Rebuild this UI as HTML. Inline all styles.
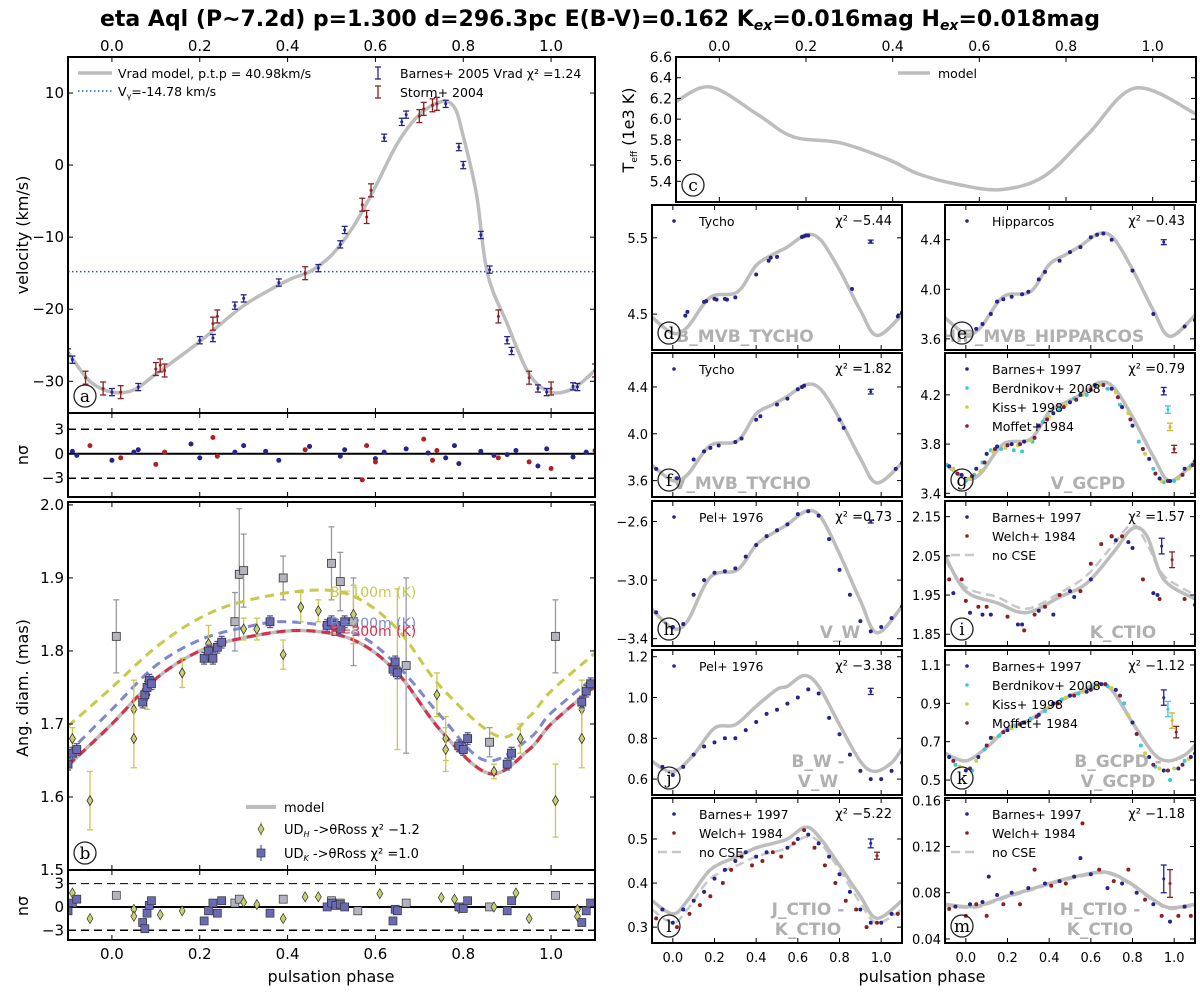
<!DOCTYPE html>
<html><head><meta charset="utf-8">
<style>
html,body{margin:0;padding:0;background:#fff;}
svg{display:block;font-family:"DejaVu Sans","Liberation Sans",sans-serif;}
</style></head>
<body>
<svg id="chart" xmlns="http://www.w3.org/2000/svg" width="1200" height="996" viewBox="0 0 1200 996">
<text x="600" y="26" text-anchor="middle" font-size="22" font-weight="bold">eta Aql (P~7.2d) p=1.300 d=296.3pc E(B-V)=0.162 K<tspan font-style="italic" font-size="14" dy="4">ex</tspan><tspan dy="-4">=0.016mag H</tspan><tspan font-style="italic" font-size="14" dy="4">ex</tspan><tspan dy="-4">=0.018mag</tspan></text>
<text transform="translate(28,235) rotate(-90)" text-anchor="middle" font-size="16">velocity (km/s)</text>
<text transform="translate(28,455) rotate(-90)" text-anchor="middle" font-size="16">nσ</text>
<text transform="translate(28,688) rotate(-90)" text-anchor="middle" font-size="16">Ang. diam. (mas)</text>
<text transform="translate(28,906) rotate(-90)" text-anchor="middle" font-size="16">nσ</text>
<text transform="translate(634,130) rotate(-90)" text-anchor="middle" font-size="16">T<tspan font-size="9" dy="3">eff</tspan><tspan dy="-3"> (1e3 K)</tspan></text>
<text x="331" y="982" text-anchor="middle" font-size="16">pulsation phase</text>
<text x="922" y="982" text-anchor="middle" font-size="16">pulsation phase</text>
</svg>
<script>
// ---------------- DATA ----------------
const velModelPh=[-0.1,-0.05,0.0,0.05,0.1,0.2,0.3,0.4,0.45,0.5,0.55,0.6,0.65,0.7,0.75,0.78,0.8,0.83,0.855,0.9,0.95,1.0,1.05,1.1];
const velModelV=[-26,-30,-31.5,-31.2,-29,-24.5,-19.5,-16,-14.8,-12.5,-8.5,-3,3,7,8.8,8,4,-4,-15,-22,-29,-31.5,-31,-28.5];
const vGamma=-14.78;
const barnesPh=[-0.1,-0.09,0.0,0.06,0.2,0.23,0.28,0.3,0.38,0.47,0.52,0.53,0.62,0.66,0.67,0.76,0.79,0.8,0.84,0.86,0.9,0.91,0.97,0.99,1.05,1.06];
const barnesV=[-26,-27,-31.5,-30.8,-24.3,-24,-19.5,-18.5,-16.3,-14.3,-11,-9,3.8,6,7,8.5,2.5,0,-9.7,-14.5,-24.3,-25.8,-31,-31.5,-30.7,-30.8];
const stormPh=[-0.06,-0.02,0.02,0.1,0.11,0.12,0.23,0.24,0.44,0.57,0.58,0.59,0.7,0.71,0.73,0.74,0.88,0.95,1.0,1.1];
const stormV=[-29.5,-31,-31.5,-28.3,-27.8,-28.5,-22,-21,-15,-5.5,-7.2,-3.5,6.8,7.8,8.3,8.5,-21,-29.5,-31,-28.5];
const resBarnesPh=[-0.09,-0.08,0.0,0.05,0.06,0.18,0.2,0.28,0.3,0.35,0.38,0.45,0.52,0.53,0.6,0.62,0.67,0.72,0.76,0.78,0.79,0.84,0.87,0.9,0.92,0.97,0.99,1.05,1.08];
const resBarnesV=[0.3,-0.2,-0.8,0.2,0.5,1.2,-0.5,0.2,1.0,0.3,-0.8,0.9,-0.3,0.5,-0.6,0.2,0.6,0.1,-0.5,1.0,-1.2,0.3,-0.2,-0.1,0.4,-1.5,0.6,-0.4,0.2];
const resStormPh=[-0.05,0.02,0.1,0.12,0.23,0.24,0.44,0.57,0.58,0.6,0.71,0.73,0.74,0.88,0.95,1.0,1.1];
const resStormV=[1.0,-0.5,-1.3,0.2,2.0,-0.3,0.5,-3.2,1.0,-1.0,1.8,-0.8,0.4,-0.5,-1.0,-1.8,0.4];
const diamPh=[-0.1,0.0,0.1,0.2,0.3,0.43,0.55,0.65,0.75,0.86,0.95,1.0,1.1];
const diam300=[1.643,1.70,1.762,1.80,1.818,1.828,1.815,1.77,1.69,1.632,1.665,1.70,1.752];
const diam200Ph=[-0.1,0.0,0.1,0.2,0.3,0.4,0.55,0.65,0.75,0.85,0.95,1.0,1.1];
const diam200=[1.66,1.72,1.78,1.815,1.832,1.84,1.825,1.78,1.71,1.65,1.68,1.715,1.765];
const diam100Ph=[-0.1,0.0,0.1,0.2,0.3,0.45,0.55,0.65,0.75,0.88,0.95,1.0,1.1];
const diam100=[1.697,1.75,1.805,1.845,1.868,1.883,1.875,1.83,1.75,1.683,1.71,1.745,1.797];
const udHPh=[-0.09,-0.05,0.05,0.05,0.08,0.16,0.22,0.3,0.33,0.39,0.43,0.47,0.55,0.65,0.74,0.76,0.76,0.87,0.93,1.01,1.07,1.07];
const udHV=[1.68,1.595,1.72,1.68,1.74,1.77,1.81,1.83,1.83,1.795,1.86,1.855,1.85,1.775,1.74,1.68,1.665,1.635,1.68,1.595,1.72,1.68];
const udHE=[0.015,0.04,0.04,0.04,0.02,0.02,0.025,0.015,0.015,0.02,0.02,0.015,0.04,0.11,0.03,0.03,0.03,0.01,0.02,0.05,0.04,0.04];
const udKPh=[-0.1,-0.09,-0.08,0.07,0.075,0.08,0.085,0.09,0.21,0.22,0.23,0.24,0.25,0.36,0.49,0.5,0.51,0.52,0.53,0.64,0.645,0.65,0.79,0.8,0.81,0.9,0.91,1.07,1.08,1.09];
const udKV=[1.645,1.66,1.665,1.73,1.74,1.75,1.76,1.755,1.79,1.8,1.79,1.805,1.812,1.84,1.835,1.84,1.835,1.83,1.84,1.775,1.785,1.77,1.67,1.665,1.68,1.645,1.66,1.73,1.745,1.755];
const grayPh=[0.01,0.28,0.29,0.3,0.39,0.5,0.52,0.55,0.67,0.86,1.01];
const grayV=[1.82,1.84,1.905,1.91,1.9,1.92,1.895,1.84,1.78,1.675,1.82];
const grayE=[0.05,0.04,0.09,0.05,0.03,0.05,0.04,0.06,0.12,0.02,0.05];
const resHPh=[-0.09,-0.05,0.05,0.05,0.11,0.16,0.3,0.33,0.39,0.44,0.47,0.61,0.75,0.78,0.79,0.87,0.92,0.95,1.06,1.06];
const resHV=[1.8,-1.5,-0.3,-1.2,-1.0,-0.5,0.6,0.3,-1.5,1.3,1.3,1.7,1.2,1.0,-0.2,0.0,1.8,-1.5,-0.3,-1.2];
const resKPh=udKPh;
const resKV=[-0.5,0.5,1.0,-2.0,-2.8,-0.8,0.2,0.8,-1.8,-0.5,0.5,-0.8,0.8,-0.8,0,0.5,0.2,0.3,0,-1.8,-0.3,-0.5,0,-0.2,0.8,-0.5,0.8,-2.0,-0.5,0.5];
const resGPh=[0.01,0.28,0.29,0.39,0.5,0.52,0.56,0.67,0.86,1.01];
const resGV=[1.5,0.5,1.0,1.0,0.8,0.5,-0.5,0.5,0,1.5];
const teffPh=[-0.1,-0.02,0.09,0.17,0.28,0.39,0.46,0.55,0.65,0.75,0.85,0.96,1.1];
const teffV=[6.17,6.31,6.04,5.83,5.77,5.61,5.47,5.37,5.32,5.45,5.85,6.3,6.05];
const shapePh=[-0.1,0.0,0.07,0.18,0.31,0.40,0.48,0.55,0.64,0.71,0.8,0.9,0.98,1.1];
const bTychoModel=[4.46,4.25,4.33,4.72,4.79,5.14,5.28,5.38,5.54,5.47,5.08,4.55,4.22,4.49];
const hipModel=[3.77,3.64,3.69,3.94,3.98,4.2,4.28,4.35,4.45,4.41,4.16,3.83,3.62,3.79];
const vTychoModel=[3.73,3.6,3.65,3.9,3.94,4.17,4.25,4.32,4.42,4.38,4.13,3.79,3.58,3.75];
const vGcpdModel=[3.64,3.52,3.56,3.8,3.84,4.06,4.14,4.2,4.3,4.26,4.02,3.7,3.5,3.66];
const vWModel=[-3.2,-3.33,-3.28,-2.98,-2.93,-2.76,-2.68,-2.62,-2.53,-2.57,-2.82,-3.14,-3.36,-3.18];
const kPh=[-0.1,0.0,0.15,0.29,0.45,0.58,0.71,0.8,0.87,0.95,1.1];
const kModel=[2.05,1.96,1.93,1.905,1.945,1.98,2.06,2.12,2.1,1.99,1.94];
const kNoCse=[2.04,1.97,1.945,1.915,1.955,2.0,2.08,2.13,2.08,2.0,1.95];
const bvPh=[-0.1,0.0,0.1,0.2,0.3,0.4,0.5,0.55,0.63,0.7,0.8,0.9,0.97,1.05,1.1];
const bvWModel=[0.687,0.635,0.72,0.85,0.867,0.957,1.04,1.055,1.108,1.055,0.867,0.687,0.638,0.68,0.75];
const bvGModel=[0.64,0.6,0.67,0.77,0.81,0.88,0.94,0.96,1.0,0.97,0.8,0.64,0.6,0.63,0.68];
const jkModel=[0.36,0.33,0.36,0.43,0.46,0.48,0.49,0.5,0.527,0.5,0.44,0.37,0.32,0.36];
const jkNoCse=[0.34,0.31,0.34,0.41,0.44,0.46,0.47,0.48,0.505,0.49,0.43,0.355,0.31,0.34];
const hkModel=[0.07,0.068,0.069,0.076,0.083,0.088,0.092,0.095,0.098,0.096,0.087,0.074,0.067,0.07];
const hkNoCse=[0.069,0.067,0.068,0.075,0.082,0.087,0.091,0.094,0.097,0.095,0.086,0.073,0.066,0.069];
const dPh=[0.06,0.07,0.15,0.16,0.2,0.21,0.25,0.26,0.3,0.4,0.46,0.47,0.5,0.62,0.63,0.64,0.65,0.86,1.08,1.1];
const dV=[4.48,4.53,4.66,4.67,4.7,4.69,4.7,4.69,4.72,5.02,5.2,5.24,5.25,5.51,5.52,5.53,5.53,4.83,4.47,4.52];
const ePh=[0.05,0.08,0.12,0.15,0.18,0.22,0.27,0.3,0.35,0.38,0.45,0.5,0.55,0.6,0.63,0.66,0.7,0.8,0.9,1.05,1.1];
const eV=[3.68,3.72,3.8,3.9,3.92,3.94,3.96,3.98,4.08,4.14,4.23,4.3,4.34,4.42,4.44,4.45,4.4,4.15,3.8,3.7,3.75];
const fPh=[-0.08,0.02,0.1,0.15,0.18,0.22,0.3,0.33,0.4,0.42,0.5,0.55,0.6,0.62,0.63,0.8,0.82,1.07,1.1];
const fV=[3.7,3.62,3.78,3.85,3.88,3.9,3.93,3.96,4.12,4.15,4.25,4.3,4.38,4.4,4.41,4.12,4.05,3.7,3.75];
const gBPh=[-0.08,-0.02,0.05,0.1,0.15,0.22,0.28,0.35,0.42,0.5,0.55,0.62,0.7,0.75,0.8,0.88,0.93,0.98,1.05,1.1];
const gBV=[3.62,3.55,3.6,3.72,3.78,3.8,3.82,3.95,4.05,4.14,4.2,4.28,4.25,4.1,3.95,3.68,3.52,3.5,3.6,3.66];
const gCPh=[-0.09,0.0,0.04,0.08,0.12,0.17,0.23,0.27,0.32,0.37,0.45,0.52,0.58,0.63,0.68,0.74,0.83,0.9,0.95,1.0,1.08];
const gCV=[3.63,3.5,3.55,3.65,3.75,3.76,3.75,3.74,3.82,3.98,4.08,4.17,4.2,4.27,4.25,4.12,3.82,3.6,3.49,3.5,3.62];
const gKPh=[-0.06,0.02,0.07,0.13,0.19,0.25,0.31,0.4,0.48,0.56,0.64,0.72,0.78,0.86,0.94,1.02,1.07];
const gKV=[3.6,3.52,3.58,3.74,3.77,3.79,3.83,4.02,4.12,4.2,4.28,4.22,4.05,3.72,3.5,3.52,3.6];
const gMPh=[-0.04,0.03,0.09,0.14,0.2,0.26,0.33,0.39,0.47,0.53,0.6,0.66,0.73,0.79,0.85,0.91,0.97,1.04,1.09];
const gMV=[3.56,3.54,3.65,3.76,3.79,3.8,3.85,4.0,4.1,4.16,4.24,4.28,4.18,4.0,3.76,3.56,3.5,3.55,3.63];
const hPh=[-0.08,0.0,0.05,0.1,0.15,0.2,0.25,0.3,0.35,0.4,0.45,0.5,0.55,0.6,0.65,0.7,0.75,0.8,0.85,0.9,0.95,1.0,1.05,1.1];
const hV=[-3.22,-3.32,-3.3,-3.1,-3.0,-2.95,-2.94,-2.92,-2.84,-2.76,-2.7,-2.66,-2.62,-2.55,-2.53,-2.56,-2.72,-2.93,-3.1,-3.28,-3.35,-3.32,-3.26,-3.18];
const iBPh=[-0.06,0.02,0.08,0.12,0.25,0.27,0.35,0.42,0.5,0.52,0.6,0.7,0.72,0.78,0.8,0.9,0.92,1.1];
const iBV=[1.955,1.905,1.9,1.9,1.875,1.875,1.91,1.9,1.96,1.945,1.99,2.1,2.09,2.085,2.07,1.955,1.95,1.925];
const iWPh=[-0.08,-0.02,0.0,0.06,0.1,0.2,0.28,0.33,0.38,0.45,0.55,0.6,0.65,0.7,0.75,0.85,0.93,1.05];
const iWV=[1.99,1.99,1.935,1.92,1.92,1.895,1.86,1.9,1.92,1.95,1.96,2.03,2.08,2.1,2.1,1.99,1.94,1.94];
const jPh=[-0.05,0.0,0.05,0.1,0.15,0.2,0.25,0.3,0.35,0.4,0.45,0.5,0.55,0.6,0.65,0.7,0.75,0.8,0.85,0.9,0.95,1.0,1.05,1.1];
const jV=[0.66,0.62,0.66,0.72,0.76,0.78,0.8,0.8,0.84,0.88,0.92,0.94,0.97,1.0,1.04,1.02,0.9,0.82,0.72,0.64,0.6,0.6,0.64,0.68];
const kBPh=[-0.08,0.0,0.06,0.12,0.2,0.28,0.35,0.42,0.5,0.58,0.65,0.72,0.8,0.88,0.95,1.02,1.08];
const kBV=[0.62,0.55,0.62,0.72,0.76,0.8,0.84,0.9,0.94,0.96,1.0,0.97,0.8,0.62,0.55,0.56,0.62];
const kCPh=[-0.05,0.03,0.09,0.16,0.24,0.31,0.38,0.46,0.54,0.61,0.68,0.76,0.84,0.91,0.98,1.05];
const kCV=[0.58,0.55,0.66,0.73,0.78,0.82,0.86,0.92,0.95,0.98,0.99,0.9,0.68,0.57,0.5,0.6];
const kKPh=[-0.03,0.05,0.13,0.22,0.3,0.4,0.48,0.56,0.63,0.7,0.78,0.86,0.93,1.0,1.07];
const kKV=[0.57,0.6,0.72,0.77,0.8,0.88,0.93,0.96,0.99,0.98,0.84,0.64,0.56,0.56,0.61];
const kMPh=[-0.06,0.02,0.1,0.18,0.26,0.34,0.44,0.52,0.6,0.67,0.74,0.82,0.9,0.97,1.04,1.1];
const kMV=[0.6,0.56,0.68,0.75,0.79,0.83,0.9,0.94,0.97,1.0,0.94,0.74,0.58,0.55,0.58,0.64];
const lBPh=[-0.05,0.0,0.05,0.1,0.15,0.2,0.25,0.3,0.35,0.4,0.45,0.55,0.6,0.65,0.7,0.75,0.8,0.85,0.9,0.95,1.0,1.05];
const lBV=[0.34,0.31,0.34,0.36,0.38,0.41,0.43,0.45,0.47,0.46,0.47,0.48,0.5,0.51,0.49,0.46,0.42,0.38,0.34,0.31,0.31,0.33];
const lWPh=[-0.08,0.02,0.08,0.13,0.18,0.24,0.28,0.33,0.38,0.43,0.48,0.52,0.58,0.63,0.68,0.73,0.78,0.83,0.88,0.93,0.98,1.08];
const lWV=[0.32,0.3,0.33,0.35,0.37,0.4,0.43,0.46,0.44,0.45,0.47,0.46,0.49,0.52,0.48,0.44,0.4,0.36,0.34,0.3,0.31,0.33];
const mBPh=[-0.05,0.02,0.08,0.11,0.15,0.22,0.3,0.38,0.45,0.52,0.55,0.6,0.68,0.75,0.82,0.9,0.98,1.05];
const mBV=[0.068,0.07,0.072,0.094,0.078,0.08,0.084,0.088,0.09,0.094,0.11,0.096,0.084,0.088,0.08,0.07,0.055,0.068];
const mWPh=[-0.08,0.0,0.05,0.1,0.18,0.26,0.33,0.41,0.48,0.56,0.64,0.71,0.78,0.86,0.94,1.02,1.08];
const mWV=[0.066,0.06,0.07,0.06,0.07,0.07,0.1,0.086,0.088,0.14,0.1,0.09,0.1,0.074,0.06,0.06,0.06];
const xTicks=[0,0.2,0.4,0.6,0.8,1.0];
const xTickLabels=["0.0","0.2","0.4","0.6","0.8","1.0"];

// ---------------- DRAWING ----------------
const NS='http://www.w3.org/2000/svg';
const svg=document.getElementById('chart');
function mk(tag,attrs,parent){const e=document.createElementNS(NS,tag);for(const k in attrs)e.setAttribute(k,attrs[k]);(parent||svg).appendChild(e);return e;}
let clipN=0;
function panel(P){
  P.xmin=-0.1;P.xmax=1.1;
  P.sx=p=>P.x+(p-P.xmin)/(P.xmax-P.xmin)*P.w;
  P.sy=v=>P.y+P.h-(v-P.ymin)/(P.ymax-P.ymin)*P.h;
  P.g=mk('g',{});
  
  
  const id='clip'+(clipN++);
  const cp=mk('clipPath',{id:id},P.g);
  mk('rect',{x:P.x,y:P.y,width:P.w,height:P.h},cp);
  P.plot=mk('g',{'clip-path':'url(#'+id+')'},P.g);
  return P;
}
function frame(P){
  const r=mk('rect',{x:P.x,y:P.y,width:P.w,height:P.h,fill:'none',stroke:'#000','stroke-width':2},P.g);
  
  
  xTicks.forEach((t,i)=>{
    const x=P.sx(t);
    mk('line',{x1:x,x2:x,y1:P.y,y2:P.y+5,stroke:'#000','stroke-width':1},P.g);
    mk('line',{x1:x,x2:x,y1:P.y+P.h,y2:P.y+P.h-5,stroke:'#000','stroke-width':1},P.g);
    if(P.xlabBottom){const t1=mk('text',{x:x,y:P.y+P.h+19,'text-anchor':'middle','font-size':P.fs||14},P.g);t1.textContent=xTickLabels[i];
      
      }
    if(P.xlabTop){const t2=mk('text',{x:x,y:P.y-6,'text-anchor':'middle','font-size':P.fs||14},P.g);t2.textContent=xTickLabels[i];
      
      }
  });
  P.yticks.forEach((t,i)=>{
    const y=P.sy(t);
    mk('line',{x1:P.x,x2:P.x+5,y1:y,y2:y,stroke:'#000','stroke-width':1},P.g);
    mk('line',{x1:P.x+P.w,x2:P.x+P.w-5,y1:y,y2:y,stroke:'#000','stroke-width':1},P.g);
    const lab=mk('text',{x:P.x-4,y:y+5,'text-anchor':'end','font-size':P.fs||14},P.g);
    lab.textContent=P.ylabels[i];
    
    
  });
}
function curve(P,ph,vals,style,name){
  const pts=ph.map((p,i)=>[P.sx(p),P.sy(vals[i])]);
  let d='M'+pts[0][0]+','+pts[0][1];
  for(let i=0;i<pts.length-1;i++){
    const p0=pts[Math.max(0,i-1)],p1=pts[i],p2=pts[i+1],p3=pts[Math.min(pts.length-1,i+2)];
    const c1=[p1[0]+(p2[0]-p0[0])/6,p1[1]+(p2[1]-p0[1])/6];
    const c2=[p2[0]-(p3[0]-p1[0])/6,p2[1]-(p3[1]-p1[1])/6];
    d+='C'+c1[0]+','+c1[1]+' '+c2[0]+','+c2[1]+' '+p2[0]+','+p2[1];
  }
  const e=mk('path',Object.assign({d:d,fill:'none'},style),P.plot);
  
  
  return e;
}
function dots(P,ph,vals,color,r,name){
  ph.forEach((p,i)=>{
    const c=mk('circle',{cx:P.sx(p),cy:P.sy(vals[i]),r:r,fill:color},P.plot);
    
    
  });
}
function errPts(P,ph,vals,errs,color,marker,mcolor,name){
  ph.forEach((p,i)=>{
    const x=P.sx(p),y=P.sy(vals[i]),e=errs[i];
    const y1=P.sy(vals[i]+e),y2=P.sy(vals[i]-e);
    const g=mk('g',{},P.plot);
    
    
    mk('line',{x1:x,x2:x,y1:y1,y2:y2,stroke:color,'stroke-width':1.3},g);
    mk('line',{x1:x-3,x2:x+3,y1:y1,y2:y1,stroke:color,'stroke-width':1.3},g);
    mk('line',{x1:x-3,x2:x+3,y1:y2,y2:y2,stroke:color,'stroke-width':1.3},g);
    if(marker==='sq')mk('rect',{x:x-4,y:y-4,width:8,height:8,fill:mcolor,stroke:'#333','stroke-width':0.8},g);
    else if(marker==='dia')mk('path',{d:`M${x},${y-5}L${x+3},${y}L${x},${y+5}L${x-3},${y}Z`,fill:mcolor,stroke:'#333','stroke-width':0.8},g);
    else if(marker==='dot')mk('circle',{cx:x,cy:y,r:1.5,fill:color},g);
  });
}
function markers(P,ph,vals,marker,mcolor,name){
  ph.forEach((p,i)=>{
    const x=P.sx(p),y=P.sy(vals[i]);
    let e;
    if(marker==='sq')e=mk('rect',{x:x-4,y:y-4,width:8,height:8,fill:mcolor,stroke:'#333','stroke-width':0.7},P.plot);
    else e=mk('path',{d:`M${x},${y-5}L${x+3},${y}L${x},${y+5}L${x-3},${y}Z`,fill:mcolor,stroke:'#333','stroke-width':0.7},P.plot);
    
    
  });
}
function hline(P,v,style,name){
  const e=mk('line',Object.assign({x1:P.x,x2:P.x+P.w,y1:P.sy(v),y2:P.sy(v)},style),P.plot);
  
  
}
function txt(x,y,s,attrs,name,parent){
  const e=mk('text',Object.assign({x:x,y:y},attrs),parent);
  e.textContent=s;
  
  
  return e;
}
function circleLabel(P,ch){
  const cx=P.x+17,cy=P.y+P.h-17;
  const c=mk('circle',{cx:cx,cy:cy,r:11,fill:'none',stroke:'#222','stroke-width':1.3},P.g);
  
  
  txt(cx,cy+6,ch,{'text-anchor':'middle','font-size':17,'font-family':'DejaVu Serif,Liberation Serif,serif'},'panel-letter-'+ch,P.g);
}
const GRAY='#bdbdbd',NAVY='#24248c',RED='#8c2020',CYAN='#3cc8d8',YEL='#d0d040',MOF='#7a2040';
function model(P,ph,vals){curve(P,ph,vals,{stroke:GRAY,'stroke-width':3.5},'model-curve');}
function dashModel(P,ph,vals){curve(P,ph,vals,{stroke:'#c8c8c8','stroke-width':2.5,'stroke-dasharray':'9,5'},'no-cse-curve');}
function fmtTicks(arr,dec){return arr.map(v=>v.toFixed(dec).replace('-','−'));}

// ---- Panel a ----
const A=panel({name:'velocity',x:68,y:57,w:527,h:356,ymin:-34.4,ymax:15,yticks:[-30,-20,-10,0,10],fs:15,xlabTop:true});
A.ylabels=fmtTicks(A.yticks,0);
hline(A,vGamma,{stroke:'#1f5fbf','stroke-width':1.5,'stroke-dasharray':'1.5,2.5'},'v-gamma-line');
model(A,velModelPh,velModelV);
errPts(A,barnesPh,barnesV,barnesPh.map(()=>0.5),NAVY,'dot',NAVY,'barnes-2005-point');
errPts(A,stormPh,stormV,stormPh.map(()=>0.9),RED,'dot',RED,'storm-2004-point');
frame(A);circleLabel(A,'a');
(function(){const g=A.g;
  mk('line',{x1:78,x2:112,y1:73,y2:73,stroke:GRAY,'stroke-width':3.5},g);
  txt(118,78,'Vrad model, p.t.p = 40.98km/s',{'font-size':12.5},'legend-model',g);
  mk('line',{x1:78,x2:112,y1:91,y2:91,stroke:'#1f5fbf','stroke-width':1.5,'stroke-dasharray':'1.5,2.5'},g);
  const t=txt(118,96,'V',{'font-size':12.5},'legend-v-gamma',g);
  const s1=mk('tspan',{'font-size':8,dy:3},t);s1.textContent='γ';
  const s2=mk('tspan',{dy:-3},t);s2.textContent='=-14.78 km/s';
  [[378,73,NAVY,'Barnes+ 2005  Vrad χ² =1.24','legend-barnes'],[378,92,RED,'Storm+ 2004','legend-storm']].forEach(L=>{
    mk('line',{x1:L[0],x2:L[0],y1:L[1]-6,y2:L[1]+6,stroke:L[2],'stroke-width':1.3},g);
    mk('line',{x1:L[0]-3,x2:L[0]+3,y1:L[1]-6,y2:L[1]-6,stroke:L[2],'stroke-width':1.3},g);
    mk('line',{x1:L[0]-3,x2:L[0]+3,y1:L[1]+6,y2:L[1]+6,stroke:L[2],'stroke-width':1.3},g);
    txt(400,L[1]+5,L[3],{'font-size':12.5},L[4],g);
  });
})();
// ---- residual a ----
const RA=panel({name:'velocity-residual',x:68,y:413,w:527,h:84,ymin:-5.3,ymax:5,yticks:[-3,0,3],fs:15});
RA.ylabels=['−3','0','3'];
hline(RA,0,{stroke:'#000','stroke-width':2},'zero-line');
hline(RA,3,{stroke:'#000','stroke-width':1.5,'stroke-dasharray':'8,5'},'plus3-line');
hline(RA,-3,{stroke:'#000','stroke-width':1.5,'stroke-dasharray':'8,5'},'minus3-line');
dots(RA,resBarnesPh,resBarnesV,NAVY,2.5,'residual-barnes');
dots(RA,resStormPh,resStormV,'#b02020',2.5,'residual-storm');
frame(RA);

// ---- Panel b ----
const B=panel({name:'diameter',x:68,y:502,w:527,h:368,ymin:1.5,ymax:2.004,yticks:[1.5,1.6,1.7,1.8,1.9,2.0],fs:15});
B.ylabels=fmtTicks(B.yticks,1);
errPts(B,grayPh,grayV,grayE,'#9a9a9a','sq','#b4b4c0','gray-diameter-point');
model(B,diamPh,diam300);
curve(B,diam100Ph,diam100,{stroke:'#c8c84a','stroke-width':3,'stroke-dasharray':'9,6'},'b100-curve');
curve(B,diam200Ph,diam200,{stroke:'#7e88cc','stroke-width':3,'stroke-dasharray':'9,6'},'b200-curve');
curve(B,diamPh,diam300,{stroke:'#d83048','stroke-width':3,'stroke-dasharray':'9,6'},'b300-curve');
errPts(B,udHPh,udHV,udHE,'#c8c850','dia','#c8d070','ud-h-point');
errPts(B,udKPh,udKV,udKPh.map(()=>0.008),'#5a5aa0','sq','#6a6ab4','ud-k-point');
txt(330,597,'B=100m (K)',{'font-size':14,fill:'#c8c84a'},'label-b100',B.g);
txt(330,628,'B=200m (K)',{'font-size':14,fill:'#7e88cc'},'label-b200',B.g);
txt(330,636,'B=300m (K)',{'font-size':14,fill:'#d83048'},'label-b300',B.g);
(function(){const g=B.g;
  mk('line',{x1:246,x2:276,y1:807,y2:807,stroke:GRAY,'stroke-width':4},g);
  txt(284,812,'model',{'font-size':13},'legend-model',g);
  mk('line',{x1:261,x2:261,y1:822,y2:836,stroke:'#c8c850','stroke-width':1.3},g);
  mk('path',{d:'M261,824L264,829L261,834L258,829Z',fill:'#c8d070',stroke:'#333','stroke-width':0.7},g);
  const t1=txt(284,834,'UD',{'font-size':13},'legend-ud-h',g);
  const a=mk('tspan',{'font-size':8,dy:3,'font-style':'italic'},t1);a.textContent='H';
  const b=mk('tspan',{dy:-3},t1);b.textContent=' ->θRoss χ² −1.2';
  mk('line',{x1:261,x2:261,y1:845,y2:861,stroke:'#5a5aa0','stroke-width':1.3},g);
  mk('rect',{x:257,y:849,width:8,height:8,fill:'#6a6ab4',stroke:'#333','stroke-width':0.7},g);
  const t2=txt(284,858,'UD',{'font-size':13},'legend-ud-k',g);
  const c=mk('tspan',{'font-size':8,dy:3,'font-style':'italic'},t2);c.textContent='K';
  const d=mk('tspan',{dy:-3},t2);d.textContent=' ->θRoss χ² =1.0';
})();
frame(B);circleLabel(B,'b');
// ---- residual b ----
const RB=panel({name:'diameter-residual',x:68,y:870,w:527,h:70,ymin:-4.25,ymax:4.75,yticks:[-3,0,3],fs:15,xlabBottom:true});
RB.ylabels=['−3','0','3'];
hline(RB,0,{stroke:'#000','stroke-width':2},'zero-line');
hline(RB,3,{stroke:'#000','stroke-width':1,'stroke-dasharray':'8,5'},'plus3-line');
hline(RB,-3,{stroke:'#000','stroke-width':1.5,'stroke-dasharray':'8,5'},'minus3-line');
markers(RB,resGPh,resGV,'sq','#b4b4c0','residual-gray');
markers(RB,resHPh,resHV,'dia','#c8d070','residual-ud-h');
markers(RB,resKPh,resKV,'sq','#6a6ab4','residual-ud-k');
frame(RB);

// ---- Panel c ----
const C=panel({name:'teff',x:676,y:57,w:520,h:145,ymin:5.2,ymax:6.6,yticks:[5.4,5.6,5.8,6.0,6.2,6.4,6.6],fs:14,xlabTop:true});
C.ylabels=fmtTicks(C.yticks,1);
model(C,teffPh,teffV);
frame(C);circleLabel(C,'c');
mk('line',{x1:898,x2:930,y1:73,y2:73,stroke:GRAY,'stroke-width':3.5},C.g);
txt(938,78,'model',{'font-size':12.5},'legend-model',C.g);

// ---- photometry panels ----
const colX=[652,945],rowY=[205,353,501,650,798],rowH=[145,144,145,145,145];
function phot(o){
  const P=panel({name:o.name,x:colX[o.c],y:rowY[o.r],w:250,h:rowH[o.r],ymin:o.ymin,ymax:o.ymax,yticks:o.yticks,fs:13,xlabBottom:o.r===4});
  P.ylabels=fmtTicks(o.yticks,o.dec);
  o.wm.forEach((s,i)=>txt(o.wx,P.y+P.h-(o.wm.length-i)*20+12,s,{'font-size':17,'font-weight':'bold',fill:'#b0b0b0','text-anchor':'middle'},'band-label',P.plot));
  return P;
}
function legend(P,items,chi){
  items.forEach((it,i)=>{
    const y=P.y+16+i*19;
    if(it[1]==='dash'){const l=mk('line',{x1:P.x+6,x2:P.x+30,y1:y,y2:y,stroke:'#c8c8c8','stroke-width':2.5,'stroke-dasharray':'9,5'},P.g);
      }
    else{const c=mk('circle',{cx:P.x+22,cy:y,r:1.8,fill:it[1]},P.g);
      }
    txt(P.x+47,y+5,it[0],{'font-size':12.5},'legend-entry',P.g);
  });
  txt(P.x+P.w-10,P.y+20,chi,{'font-size':13,'text-anchor':'end'},'chi2-label',P.g);
}
function sampleErr(P,list){
  list.forEach(e=>errPts(P,[e[0]],[e[1]],[e[2]],e[3],'dot',e[3],'sample-errorbar'));
}
let P=phot({name:'b-mvb-tycho',c:0,r:0,ymin:4.03,ymax:5.93,yticks:[4.5,5.5],dec:1,wm:['B_MVB_TYCHO'],wx:745});
model(P,shapePh,bTychoModel);dots(P,dPh,dV,NAVY,2,'tycho-point');sampleErr(P,[[0.95,5.45,0.02,NAVY]]);
legend(P,[['Tycho',NAVY]],'χ² −5.44');frame(P);circleLabel(P,'d');
P=phot({name:'hip-mvb-hipparcos',c:1,r:0,ymin:3.51,ymax:4.68,yticks:[3.6,4.0,4.4],dec:1,wm:['HIP_MVB_HIPPARCOS'],wx:1043});
model(P,shapePh,hipModel);dots(P,ePh,eV,NAVY,2,'hipparcos-point');sampleErr(P,[[0.95,4.38,0.02,NAVY]]);
legend(P,[['Hipparcos',NAVY]],'χ² −0.43');frame(P);circleLabel(P,'e');
P=phot({name:'v-mvb-tycho',c:0,r:1,ymin:3.46,ymax:4.69,yticks:[3.6,4.0,4.4],dec:1,wm:['V_MVB_TYCHO'],wx:742});
model(P,shapePh,vTychoModel);dots(P,fPh,fV,NAVY,2,'tycho-point');sampleErr(P,[[0.95,4.36,0.02,NAVY]]);
legend(P,[['Tycho',NAVY]],'χ² =1.82');frame(P);circleLabel(P,'f');
P=phot({name:'v-gcpd',c:1,r:1,ymin:3.37,ymax:4.54,yticks:[3.4,3.8,4.2],dec:1,wm:['V_GCPD'],wx:1088});
model(P,shapePh,vGcpdModel);
dots(P,gCPh,gCV,CYAN,2,'berdnikov-point');dots(P,gKPh,gKV,YEL,2,'kiss-point');dots(P,gMPh,gMV,MOF,2,'moffet-point');dots(P,gBPh,gBV,NAVY,2,'barnes-point');
sampleErr(P,[[0.95,4.23,0.03,NAVY],[0.97,4.08,0.03,CYAN],[0.98,3.94,0.03,'#c8b830'],[1.0,3.76,0.03,RED]]);
legend(P,[['Barnes+ 1997',NAVY],['Berdnikov+ 2008',CYAN],['Kiss+ 1998',YEL],['Moffet+1984',MOF]],'χ² =0.79');frame(P);circleLabel(P,'g');
P=phot({name:'v-w',c:0,r:2,ymin:-3.45,ymax:-2.46,yticks:[-3.4,-3.0,-2.6],dec:1,wm:['V_W'],wx:840});
model(P,shapePh,vWModel);dots(P,hPh,hV,NAVY,2,'pel-point');sampleErr(P,[[0.95,-2.6,0.01,NAVY]]);
legend(P,[['Pel+ 1976',NAVY]],'χ² =0.73');frame(P);circleLabel(P,'h');
P=phot({name:'k-ctio',c:1,r:2,ymin:1.82,ymax:2.19,yticks:[1.85,1.95,2.05,2.15],dec:2,wm:['K_CTIO'],wx:1123});
dashModel(P,kPh,kNoCse);model(P,kPh,kModel);
dots(P,iBPh,iBV,NAVY,2,'barnes-point');dots(P,iWPh,iWV,RED,2,'welch-point');
sampleErr(P,[[0.94,2.075,0.02,NAVY],[0.99,2.04,0.02,RED]]);
legend(P,[['Barnes+ 1997',NAVY],['Welch+ 1984',RED],['no CSE','dash']],'χ² =1.57');frame(P);circleLabel(P,'i');
P=phot({name:'b-w-minus-v-w',c:0,r:3,ymin:0.522,ymax:1.233,yticks:[0.6,0.8,1.0,1.2],dec:1,wm:['B_W -','V_W'],wx:818});
model(P,bvPh,bvWModel);dots(P,jPh,jV,NAVY,2,'pel-point');sampleErr(P,[[0.95,1.03,0.015,NAVY]]);
legend(P,[['Pel+ 1976',NAVY]],'χ² −3.38');frame(P);circleLabel(P,'j');
P=phot({name:'b-gcpd-minus-v-gcpd',c:1,r:3,ymin:0.422,ymax:1.178,yticks:[0.5,0.7,0.9,1.1],dec:1,wm:['B_GCPD -','V_GCPD'],wx:1118});
model(P,bvPh,bvGModel);
dots(P,kCPh,kCV,CYAN,2,'berdnikov-point');dots(P,kKPh,kKV,YEL,2,'kiss-point');dots(P,kMPh,kMV,MOF,2,'moffet-point');dots(P,kBPh,kBV,NAVY,2,'barnes-point');
sampleErr(P,[[0.95,0.93,0.04,NAVY],[0.97,0.87,0.04,CYAN],[0.99,0.81,0.04,'#c8b830'],[1.01,0.75,0.03,RED]]);
legend(P,[['Barnes+ 1997',NAVY],['Berdnikov+ 2008',CYAN],['Kiss+ 1998',YEL],['Moffet+ 1984',MOF]],'χ² −1.12');frame(P);circleLabel(P,'k');
P=phot({name:'j-ctio-minus-k-ctio',c:0,r:4,ymin:0.264,ymax:0.593,yticks:[0.3,0.4,0.5],dec:1,wm:['J_CTIO -','K_CTIO'],wx:808});
dashModel(P,shapePh,jkNoCse);model(P,shapePh,jkModel);
dots(P,lBPh,lBV,NAVY,2,'barnes-point');dots(P,lWPh,lWV,RED,2,'welch-point');
sampleErr(P,[[0.95,0.49,0.01,NAVY],[0.98,0.462,0.008,RED]]);
legend(P,[['Barnes+ 1997',NAVY],['Welch+ 1984',RED],['no CSE','dash']],'χ² −5.22');frame(P);circleLabel(P,'l');
P=phot({name:'h-ctio-minus-k-ctio',c:1,r:4,ymin:0.0365,ymax:0.162,yticks:[0.04,0.08,0.12,0.16],dec:2,wm:['H_CTIO -','K_CTIO'],wx:1100});
dashModel(P,shapePh,hkNoCse);model(P,shapePh,hkModel);
dots(P,mBPh,mBV,NAVY,2,'barnes-point');dots(P,mWPh,mWV,RED,2,'welch-point');
sampleErr(P,[[0.95,0.092,0.012,NAVY],[0.98,0.088,0.012,RED]]);
legend(P,[['Barnes+ 1997',NAVY],['Welch+ 1984',RED],['no CSE','dash']],'χ² −1.18');frame(P);circleLabel(P,'m');
</script>
</body></html>
